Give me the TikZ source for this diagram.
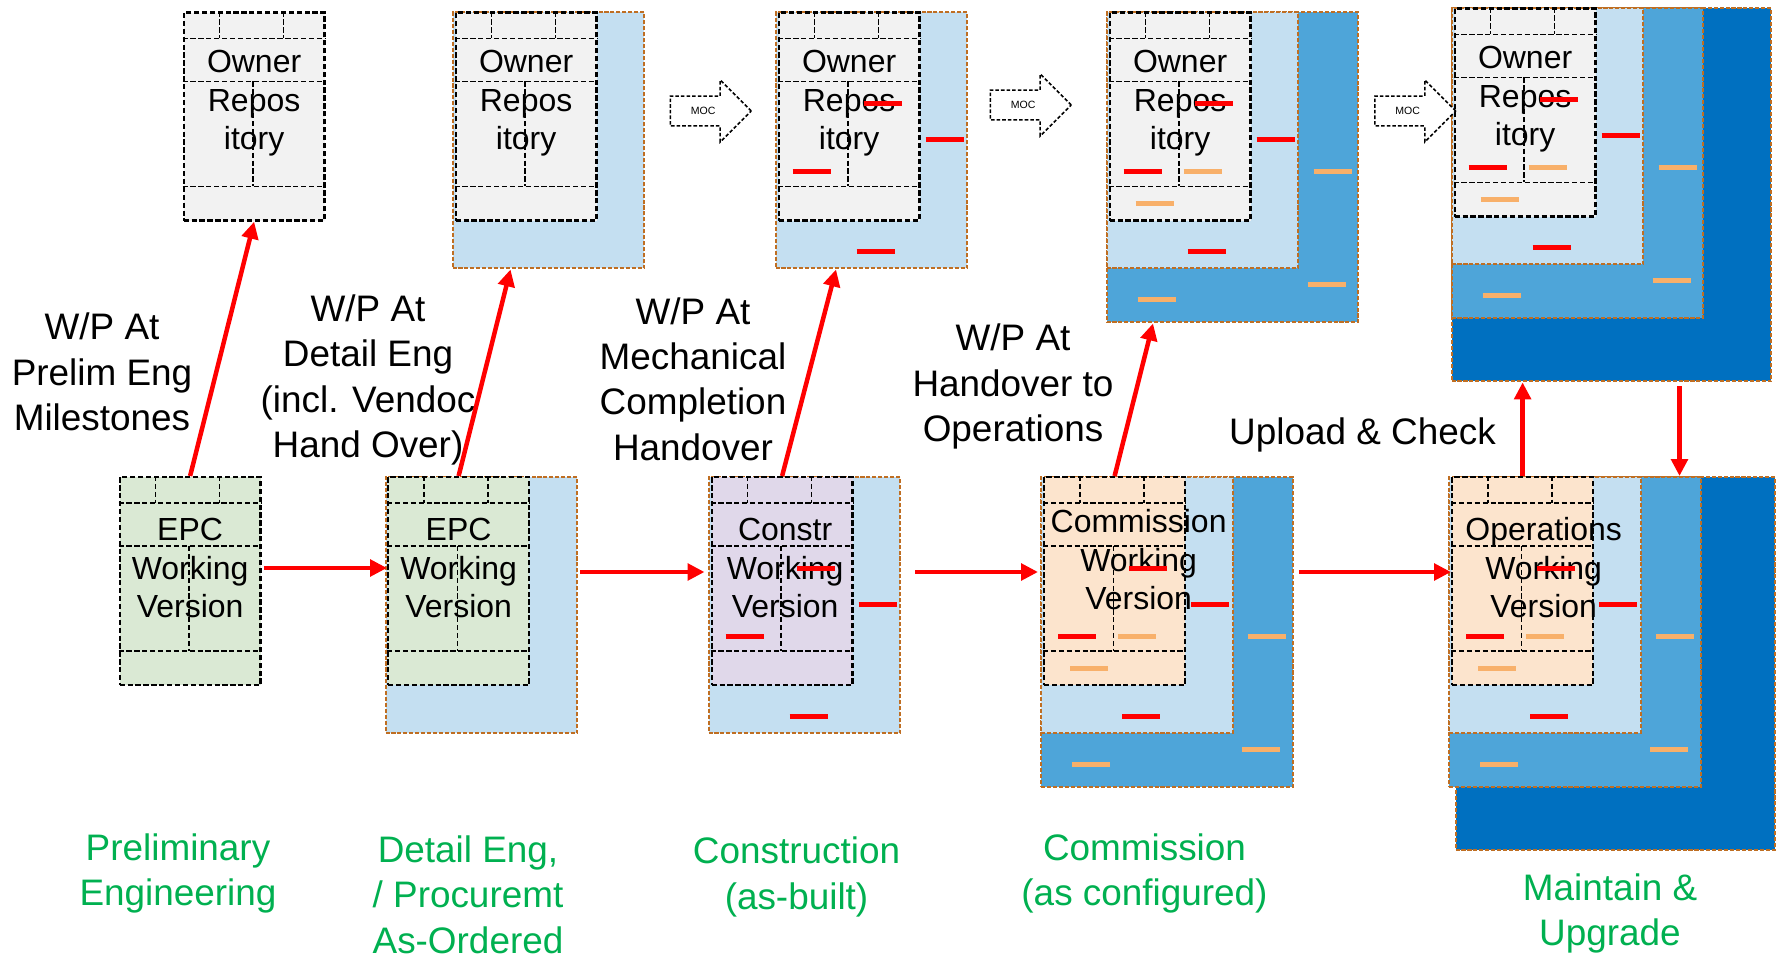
\documentclass[tikz,border=0pt]{standalone}
\usepackage{fontspec}
\setmainfont{Liberation Sans}
\usepackage{tikz}
\usetikzlibrary{shapes.arrows,arrows.meta,calc}

\definecolor{repogrey}{HTML}{F2F2F2}
\definecolor{epcgreen}{HTML}{DAE9D4}
\definecolor{constrlilac}{HTML}{E0D8EA}
\definecolor{commpeach}{HTML}{FCE4CD}
\definecolor{layerone}{HTML}{C4DFF1}
\definecolor{layertwo}{HTML}{4EA5D9}
\definecolor{layerthree}{HTML}{0070C0}
\definecolor{layeredge}{HTML}{BF6E22}
\definecolor{tickorange}{HTML}{F8B06A}
\definecolor{phasegreen}{HTML}{00B050}

\tikzset{
  block/.style={rectangle, anchor=north west, inner sep=0pt, minimum width=2.82cm, minimum height=4.16cm, draw=black, line width=0.045cm, dash pattern=on 3pt off 1.5pt},
  cell/.style={draw=black, line width=0.035cm, dash pattern=on 3pt off 1.5pt},
  layer/.style={rectangle, anchor=north west, inner sep=0pt, draw=layeredge, line width=0.04cm, dash pattern=on 2.3pt off 1.1pt},
  lightlayer/.style={layer, fill=layerone, minimum width=3.84cm, minimum height=5.12cm},
  midlayer/.style={layer, fill=layertwo, minimum width=5.04cm, minimum height=6.2cm},
  darklayer/.style={layer, fill=layerthree, minimum width=6.4cm, minimum height=7.46cm},
  blocktext/.style={align=center, inner sep=0pt, font=\fontsize{18.2}{21.9}\selectfont},
  wptext/.style={align=center, inner sep=0pt, font=\fontsize{21}{25.8}\selectfont},
  phasetext/.style={wptext, text=phasegreen},
  redtick/.style={draw=red, line width=0.1cm},
  orangetick/.style={draw=tickorange, line width=0.1cm},
  flow/.style={draw=red, line width=0.09cm, -{Triangle[length=0.34cm, width=0.33cm]}},
  moc/.style={single arrow, anchor=tail, draw=black, fill=white, line width=0.03cm, dash pattern=on 2pt off 1.2pt, minimum height=1.62cm, single arrow head extend=0.32cm, text height=0.15cm, text depth=0cm, inner ysep=0.21cm, font=\fontsize{6}{7}\selectfont}
}

\newcommand{\repolayer}[3]{\node at (#1) (#2) [#3] {};}
\newcommand{\repoblock}[5]{
  \node at (#1) (#2) [block, fill=#3] {};
  \draw [cell] ($(#2.north west)+(0,27)$) -- ($(#2.north east)+(0,27)$);
  \draw [cell] ($(#2.north west)+(0,70)$) -- ($(#2.north east)+(0,70)$);
  \draw [cell] ($(#2.north west)+(0,175)$) -- ($(#2.north east)+(0,175)$);
  \draw [cell] ($(#2.north west)+(37,0)$) -- ++(0,27);
  \draw [cell] ($(#2.north west)+(101,0)$) -- ++(0,27);
  \draw [cell] ($(#2.north west)+(70.5,70)$) -- ++(0,105);
  \node at ($(#2.north)+(#5)$) (#2text) [blocktext] {#4};
}
\newcommand{\redtick}[3]{\draw [redtick] ($(#1.north west)+(#2,#3)$) -- ++(38,0);}
\newcommand{\orangetick}[3]{\draw [orangetick] ($(#1.north west)+(#2,#3)$) -- ++(38,0);}
\newcommand{\redticks}[1]{\redtick{#1}{86}{92}\redtick{#1}{148}{128}\redtick{#1}{15}{160}\redtick{#1}{79}{240}}
\newcommand{\orangeticks}[1]{\orangetick{#1}{75}{160}\orangetick{#1}{27}{192}\orangetick{#1}{205}{160}\orangetick{#1}{199}{273}\orangetick{#1}{29}{288}}
\newcommand{\mocarrow}[2]{\node at (#1) (#2) [moc] {MOC};}
\newcommand{\wplabel}[3]{\node at (#1) (#2) [wptext] {#3};}
\newcommand{\phaselabel}[3]{\node at (#1) (#2) [phasetext] {#3};}
\newcommand{\flowarrow}[2]{\draw [flow] (#1) -- (#2);}

\begin{document}
\begin{tikzpicture}[x=0.02cm, y=-0.02cm]
\useasboundingbox (0,0) rectangle (1779,956);

\repoblock{182.5,11.5}{t1}{repogrey}{Owner\\Repos\\itory}{0,92}

\repolayer{451.5,11.5}{t2light}{lightlayer}
\repoblock{454.5,11.5}{t2}{repogrey}{Owner\\Repos\\itory}{0,92}

\repolayer{774.5,11.5}{t3light}{lightlayer}
\repoblock{777.5,11.5}{t3}{repogrey}{Owner\\Repos\\itory}{0,92}
\redticks{t3}

\repolayer{1105.5,11.5}{t4mid}{midlayer}
\repolayer{1105.5,11.5}{t4light}{lightlayer}
\repoblock{1108.5,11.5}{t4}{repogrey}{Owner\\Repos\\itory}{0,92}
\redticks{t4}
\orangeticks{t4}

\repolayer{1450.5,7.5}{t5dark}{darklayer}
\repolayer{1450.5,7.5}{t5mid}{midlayer}
\repolayer{1450.5,7.5}{t5light}{lightlayer}
\repoblock{1453.5,7.5}{t5}{repogrey}{Owner\\Repos\\itory}{0,92}
\redticks{t5}
\orangeticks{t5}

\mocarrow{669.5,111}{moc1}
\mocarrow{989.5,105}{moc2}
\mocarrow{1374,111}{moc3}

\repoblock{118.5,476}{b1}{epcgreen}{EPC\\Working\\Version}{0,92}

\repolayer{384.5,476}{b2light}{lightlayer}
\repoblock{387,476}{b2}{epcgreen}{EPC\\Working\\Version}{0,92}

\repolayer{707.5,476}{b3light}{lightlayer}
\repoblock{710.5,476}{b3}{constrlilac}{Constr\\Working\\Version}{3,92}
\redticks{b3}

\repolayer{1040,476}{b4mid}{midlayer}
\repolayer{1040,476}{b4light}{lightlayer}
\repoblock{1043,476}{b4}{commpeach}{Commission\\Working\\Version}{24,84}
\redticks{b4}
\orangeticks{b4}

\repolayer{1454.5,476}{b5dark}{darklayer}
\repolayer{1448,476}{b5mid}{midlayer}
\repolayer{1448,476}{b5light}{lightlayer}
\repoblock{1451,476}{b5}{commpeach}{Operations\\Working\\Version}{21,92}
\redticks{b5}
\orangeticks{b5}

\wplabel{102,372}{wp1}{W/P At\\Prelim Eng\\Milestones}
\wplabel{368,380}{wp2}{W/P At\\Detail Eng\\(incl. Vendoc\\Hand Over)}
\wplabel{693,379}{wp3}{W/P At\\Mechanical\\Completion\\Handover}
\wplabel{1013,386.5}{wp4}{W/P At\\Handover to\\Operations}
\wplabel{1362.5,434.5}{upload}{Upload \& Check}

\phaselabel{178,873.5}{ph1}{Preliminary\\Engineering}
\phaselabel{468,894.5}{ph2}{Detail Eng,\\/ Procuremt\\As-Ordered}
\phaselabel{796.5,877}{ph3}{Construction\\(as-built)}
\phaselabel{1144.5,873.5}{ph4}{Commission\\(as configured)}
\phaselabel{1610,913.5}{ph5}{Maintain \&\\Upgrade}

\coordinate (t2in) at ($(t2light.south west)+(59,0)$);
\coordinate (t3in) at ($(t3light.south west)+(61.5,0)$);
\coordinate (t4in) at ($(t4mid.south west)+(47.5,0)$);
\coordinate (t5in) at (b5.north |- t5dark.south);
\coordinate (t5out) at ($(t5dark.south west)+(229,4)$);
\coordinate (b5in) at (t5out |- b5mid.north);
\coordinate (h1a) at ($(b1.north east)+(2,92)$);
\coordinate (h1b) at (h1a -| b2.west);
\coordinate (h2a) at ($(b2light.north east)+(2,96)$);
\coordinate (h2b) at ($(b3.north west)+(-6,96)$);
\coordinate (h3a) at ($(b3light.north east)+(14,96)$);
\coordinate (h3b) at ($(b4.north west)+(-5,96)$);
\coordinate (h4a) at ($(b4mid.north east)+(5,96)$);
\coordinate (h4b) at ($(b5.north west)+(0,96)$);

\flowarrow{b1.north}{t1.south}
\flowarrow{b2.north}{t2in}
\flowarrow{b3.north}{t3in}
\flowarrow{b4.north}{t4in}
\flowarrow{b5.north}{t5in}
\flowarrow{t5out}{b5in}
\flowarrow{h1a}{h1b}
\flowarrow{h2a}{h2b}
\flowarrow{h3a}{h3b}
\flowarrow{h4a}{h4b}
\end{tikzpicture}
\end{document}
